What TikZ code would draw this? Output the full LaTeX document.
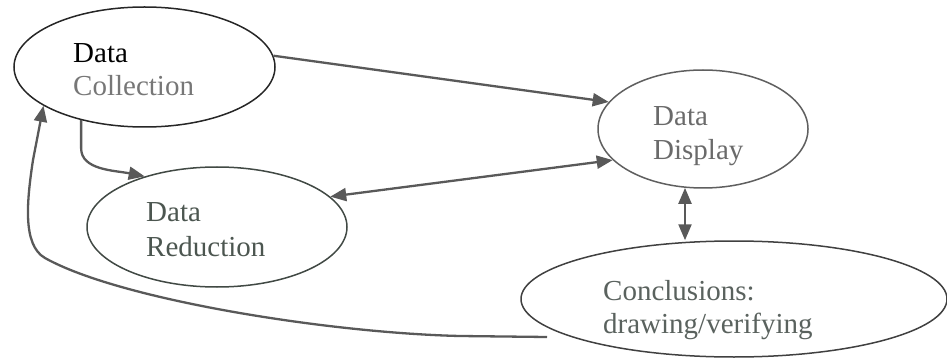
\documentclass[tikz,border=0pt]{standalone}
\usepackage{fontspec}
\setmainfont{Liberation Serif}
\usetikzlibrary{shapes.geometric,arrows.meta,calc}
\definecolor{linegrey}{HTML}{595959}
\definecolor{collgrey}{HTML}{777777}
\definecolor{dispgrey}{HTML}{6A6A6A}
\definecolor{redgrey}{HTML}{4C5650}
\definecolor{concgrey}{HTML}{5A625E}
\tikzset{
  oval/.style={ellipse, draw, line width=1.5pt, inner sep=0pt},
  lbl/.style={anchor=base west, inner sep=0pt, font=\fontsize{29}{33}\selectfont},
  tipk/.tip={Triangle[length=16pt,width=13pt]},
  conn/.style={draw=linegrey, line width=2.3pt, -tipk},
  dconn/.style={draw=linegrey, line width=2.3pt, tipk-tipk}
}
\begin{document}
\begin{tikzpicture}[x=1pt,y=-1pt]
\useasboundingbox (0,0) rectangle (947,358);
% ellipses
\node[oval, draw=black!85, minimum width=261pt, minimum height=120pt] (coll) at (144.5,67) {};
\node[oval, draw=dispgrey!90!black, minimum width=210pt, minimum height=118pt] (disp) at (703,129) {};
\node[oval, draw=redgrey!85!black, minimum width=260pt, minimum height=120pt] (red) at (217,227) {};
\node[oval, draw=black!75, minimum width=426pt, minimum height=116pt] (conc) at (734,299) {};
% texts
\node[lbl, text=black] (c1) at (73,63) {Data};
\node[lbl, text=collgrey] (c2) at (73,96) {Collection};
\begin{scope}
\clip (600,80) rectangle (800,169);
\node[lbl, text=dispgrey] (d1) at (653,126) {Data};
\node[lbl, text=dispgrey] (d2) at (653,160) {Display};
\end{scope}
\node[lbl, text=redgrey] (r1) at (146,222) {Data};
\node[lbl, text=redgrey] (r2) at (146,256) {Reduction};
\begin{scope}
\clip (590,270) rectangle (900,343);
\node[lbl, text=concgrey] (k1) at (603,300) {Conclusions:};
\node[lbl, text=concgrey] (k2) at (603,333) {drawing/verifying};
\end{scope}
% connectors
\draw[conn] (coll.5) -- (disp.164);
\draw[conn] (coll.220) -- ($(coll.220)+(0,28)$) .. controls ($(coll.220)+(0,50)$) and ($(red.145)+(-30,-6)$) .. (red.145);
\draw[dconn] (red.15) -- (disp.199);
\draw[dconn] (disp.253) -- (disp.253 |- conc.north);
\coordinate (cstart) at (547,337);
\draw[conn] (cstart) -- (460,336) .. controls (330,333) and (120,300) .. (45,258) .. controls (22,245) and (27,200) .. (33,160) -- (coll.201);
\end{tikzpicture}
\end{document}
